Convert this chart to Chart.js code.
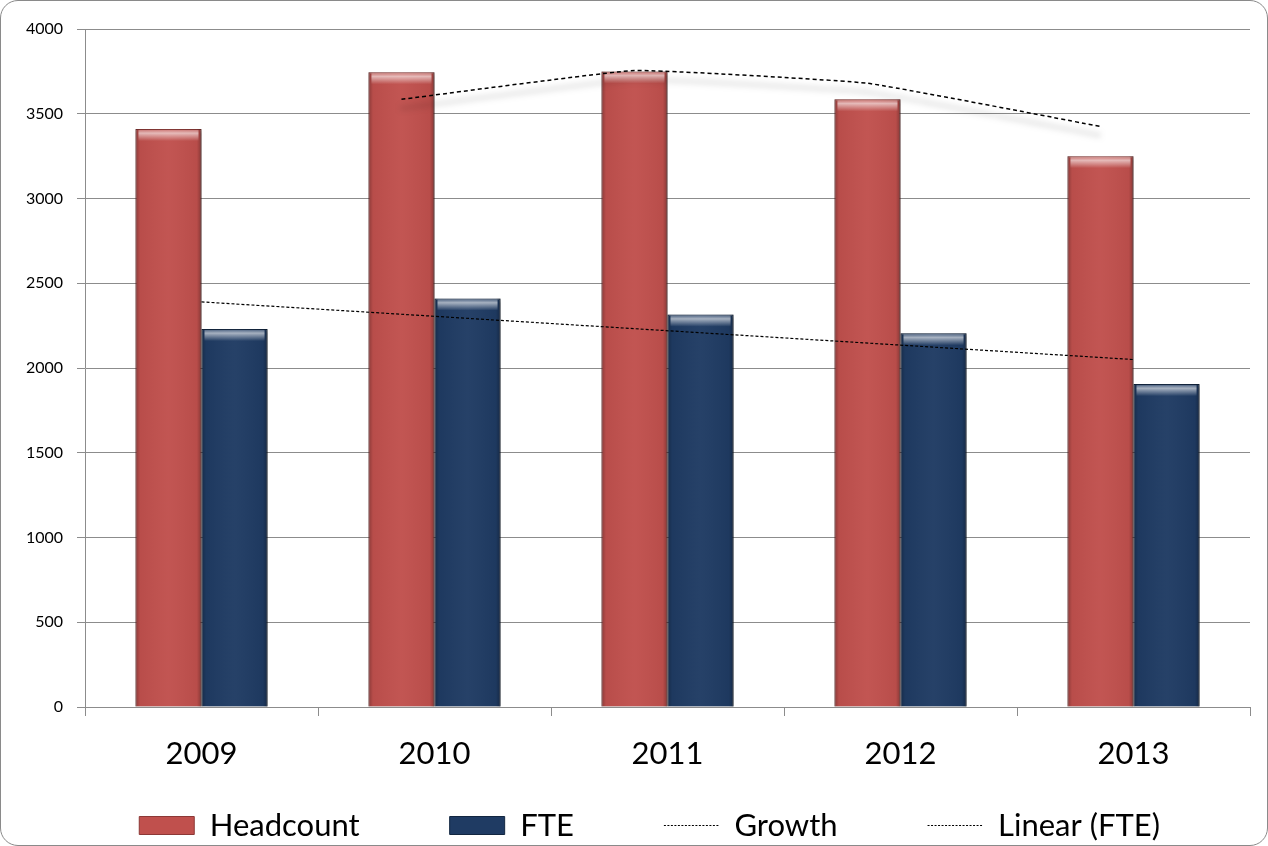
<!DOCTYPE html>
<html>
<head>
<meta charset="utf-8">
<script src="https://cdn.jsdelivr.net/npm/chart.js@4/dist/chart.umd.min.js"></script>
<style>
  html, body { margin: 0; padding: 0; background: #fff; }
  #frame {
    position: absolute; left: 0; top: 0;
    width: 1268px; height: 846px;
    box-sizing: border-box;
    border: 1px solid #8a8a8a; border-radius: 18px;
    overflow: hidden;
  }
  #chart { display: block; }
</style>
</head>
<body>
<div id="frame"><canvas id="chart" width="1266" height="850"></canvas></div>
<script>
// ---- data ----
const years = ['2009', '2010', '2011', '2012', '2013'];
const headcount = [3410, 3745, 3750, 3585, 3250];
const fte = [2230, 2410, 2315, 2205, 1905];
const growth = [null, 3585, 3755, 3680, 3425];      // drawn over the Headcount bars
const fteTrend = [2390, null, null, null, 2050];     // Linear (FTE) end points
const yMin = 0, yMax = 4000, yStep = 500;

const RED = '#C0504D';
const NAVY = '#1F3B63';
const CAT_PCT = 0.567;
const FONT = 'Lato, "Open Sans", sans-serif';
const LEG_PAD = 90;

// shadows for bars and growth line, bevel on the bars
const shadowPlugin = {
    id: 'shadows',
    beforeDatasetDraw(chart, args) {
        const ctx = chart.ctx;
        const ds = chart.data.datasets[args.index];
        ctx.save();
        if (ds.type === 'bar') {
            ctx.shadowColor = 'rgba(0,0,0,0.35)';
            ctx.shadowBlur = 4;
            ctx.shadowOffsetX = 2;
            ctx.shadowOffsetY = 1;
        } else if (ds.label === 'Growth') {
            // the growth line runs over the middle of the Headcount bars
            const bar = chart.getDatasetMeta(0).data[0];
            ctx.translate(bar.x - chart.scales.x.getPixelForValue(0), 0);
            ctx.shadowColor = 'rgba(0,0,0,0.55)';
            ctx.shadowBlur = 6;
            ctx.shadowOffsetY = 9;
        }
    },
    afterDatasetDraw(chart, args) {
        const ctx = chart.ctx;
        ctx.restore();
        const ds = chart.data.datasets[args.index];
        if (ds.type !== 'bar') return;
        args.meta.data.forEach(el => {
            const p = el.getProps(['x', 'y', 'base', 'width'], true);
            const l = p.x - p.width / 2, w = p.width, h = p.base - p.y;
            ctx.save();
            const g = ctx.createLinearGradient(l, 0, l + w, 0);
            g.addColorStop(0, 'rgba(0,0,0,0.28)');
            g.addColorStop(0.07, 'rgba(0,0,0,0.04)');
            g.addColorStop(0.5, 'rgba(255,255,255,0.03)');
            g.addColorStop(0.93, 'rgba(0,0,0,0.04)');
            g.addColorStop(1, 'rgba(0,0,0,0.3)');
            ctx.fillStyle = g;
            ctx.fillRect(l, p.y, w, h);
            const t = ctx.createLinearGradient(0, p.y, 0, p.y + 12);
            t.addColorStop(0, 'rgba(255,255,255,0.15)');
            t.addColorStop(0.35, 'rgba(255,255,255,0.6)');
            t.addColorStop(1, 'rgba(255,255,255,0)');
            ctx.fillStyle = t;
            ctx.fillRect(l + 3, p.y + 1, w - 6, 12);
            ctx.restore();
        });
    }
};

new Chart(document.getElementById('chart'), {
    type: 'bar',
    data: {
        labels: years,
        datasets: [
            { type: 'bar', label: 'Headcount', data: headcount, backgroundColor: RED, order: 1,
              borderColor: '#8c3836', borderWidth: 1, categoryPercentage: CAT_PCT, barPercentage: 1 },
            { type: 'bar', label: 'FTE', data: fte, backgroundColor: NAVY, order: 1,
              borderColor: '#122640', borderWidth: 1, categoryPercentage: CAT_PCT, barPercentage: 1 },
            { type: 'line', label: 'Growth', data: growth, borderColor: '#000', order: 0,
              borderWidth: 1.5, borderDash: [4, 3], pointRadius: 0, tension: 0.1, fill: false },
            { type: 'line', label: 'Linear (FTE)', data: fteTrend, spanGaps: true, borderColor: '#000', order: 0,
              borderWidth: 1.2, borderDash: [3, 2], pointRadius: 0, fill: false }
        ]
    },
    options: {
        responsive: false,
        animation: false,
        layout: { padding: { top: 28, right: 17, left: 0, bottom: 0 } },
        scales: {
            x: {
                position: { y: 0 },
                offset: true,
                grid: { offset: true, drawOnChartArea: false, color: '#8c8c8c', tickLength: 8 },
                border: { color: '#8c8c8c' },
                ticks: { color: '#000', font: { family: FONT, size: 31 }, padding: 20 }
            },
            // empty axis, only keeps a gap between the plot and the legend
            gap: {
                type: 'linear', axis: 'x', position: 'bottom',
                ticks: { display: false }, grid: { display: false }, border: { display: false },
                afterFit: s => { s.height = 13; }
            },
            y: {
                min: yMin, max: yMax,
                grid: { color: '#8c8c8c', tickLength: 8 },
                border: { color: '#8c8c8c' },
                ticks: { stepSize: yStep, color: '#000', font: { family: FONT, size: 16 }, padding: 14,
                         callback: v => String(v) },
                afterFit: s => { s.width = 84; }
            }
        },
        plugins: {
            tooltip: { enabled: false },
            legend: {
                position: 'bottom',
                align: 'end',
                labels: {
                    usePointStyle: true,
                    pointStyleWidth: 55,
                    boxHeight: 18,
                    padding: LEG_PAD,
                    color: '#000',
                    font: { family: FONT, size: 31 },
                    sort: (a, b) => a.datasetIndex - b.datasetIndex,
                    generateLabels(chart) {
                        const items = Chart.defaults.plugins.legend.labels.generateLabels(chart);
                        items.forEach(it => {
                            const ds = chart.data.datasets[it.datasetIndex];
                            if (ds.type === 'line') {
                                it.pointStyle = 'line';
                                it.strokeStyle = '#000';
                                it.lineWidth = 1;
                                it.lineDash = [2, 1.5];
                            } else {
                                it.pointStyle = 'rect';
                            }
                        });
                        return items;
                    }
                }
            }
        }
    },
    plugins: [shadowPlugin]
});
</script>
</body>
</html>
